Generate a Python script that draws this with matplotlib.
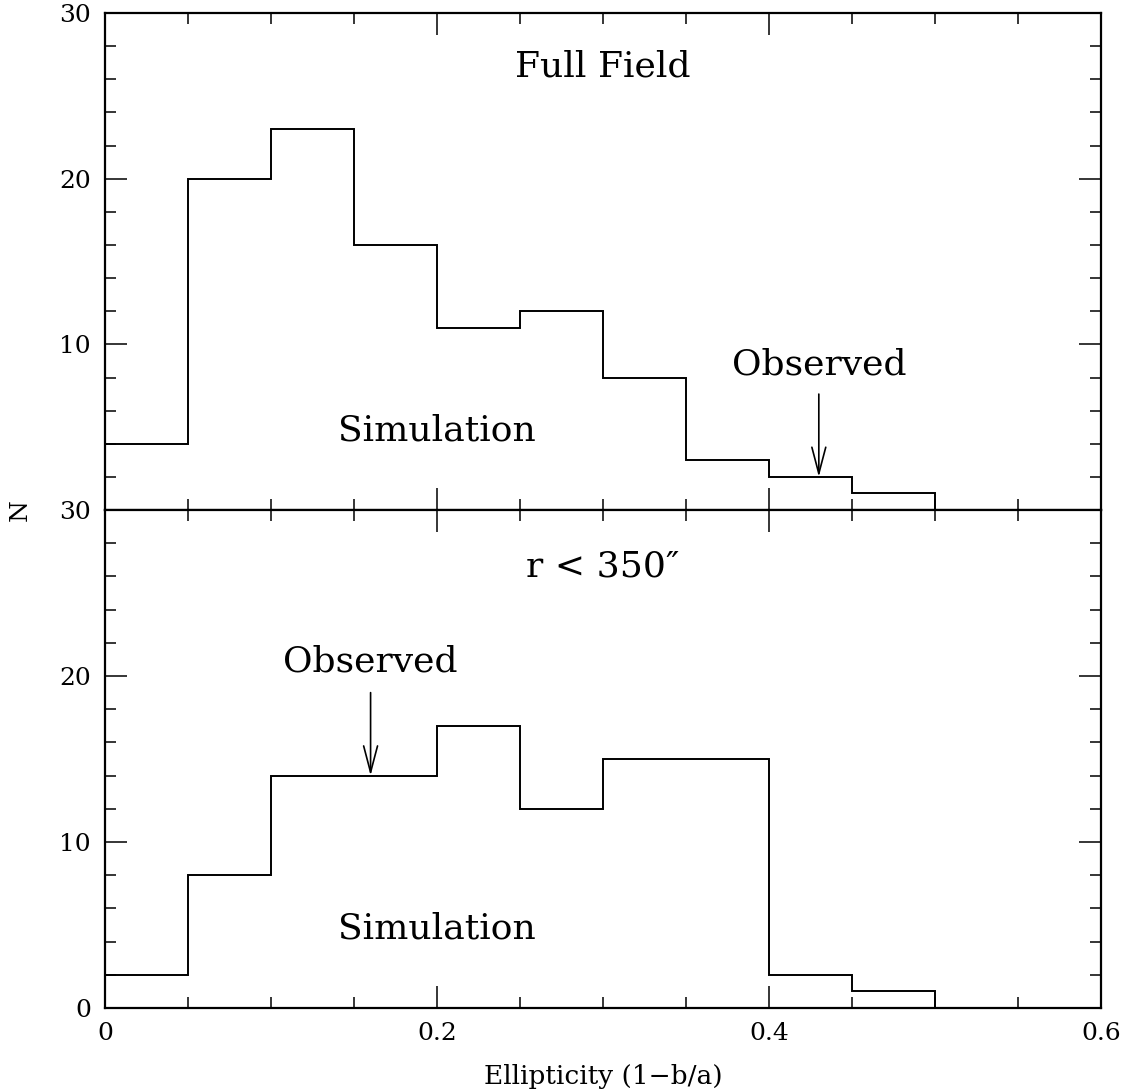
"""Ellipticity distributions: full field vs. inner region, with observed values marked."""
import matplotlib.pyplot as plt
from matplotlib.ticker import MultipleLocator, FixedLocator

plt.rcParams["font.family"] = ["DejaVu Serif"]

bin_edges = [0.0, 0.05, 0.10, 0.15, 0.20, 0.25, 0.30, 0.35, 0.40, 0.45, 0.50, 0.55, 0.60]
counts_full = [4, 20, 23, 16, 11, 12, 8, 3, 2, 1, 0, 0]
counts_inner = [2, 8, 14, 14, 17, 12, 15, 15, 2, 1, 0, 0]

observed_full = 0.43
observed_inner = 0.16

panels = [
    ("Full Field", counts_full, observed_full, 2, 7, 8.8, 26.8),
    ("r < 350\u2033", counts_inner, observed_inner, 14, 19, 20.9, 26.6),
]

fig = plt.figure(figsize=(11.25, 10.91), dpi=100)
ax_top = fig.add_axes([0.0933, 0.5325, 0.8854, 0.4555])
ax_bot = fig.add_axes([0.0933, 0.0761, 0.8854, 0.4564], sharex=ax_top)

for ax, (title, counts, obs, obs_y, arrow_top, text_y, title_y) in zip([ax_top, ax_bot], panels):
    ax.stairs(counts, bin_edges, color="black", linewidth=1.4)
    ax.set_xlim(0, 0.6)
    ax.set_ylim(0, 30)

    ax.xaxis.set_major_locator(MultipleLocator(0.2))
    ax.xaxis.set_minor_locator(MultipleLocator(0.05))
    ax.yaxis.set_major_locator(MultipleLocator(10))
    ax.yaxis.set_minor_locator(MultipleLocator(2))
    ax.tick_params(which="both", direction="in", top=True, right=True,
                   labelsize=18, width=1.1, color="black")
    ax.tick_params(which="major", length=16, pad=10)
    ax.tick_params(which="minor", length=8)
    for sp in ax.spines.values():
        sp.set_linewidth(1.6)

    ax.text(0.3, title_y, title, ha="center", va="center", fontsize=26)
    ax.text(0.2, 4.8, "Simulation", ha="center", va="center", fontsize=26)
    ax.text(obs, text_y, "Observed", ha="center", va="center", fontsize=26)
    ax.annotate("", xy=(obs, obs_y), xytext=(obs, arrow_top),
                arrowprops=dict(arrowstyle="->,head_length=1.9,head_width=0.5",
                                color="black", linewidth=1.2, shrinkA=0, shrinkB=0))

ax_top.yaxis.set_major_locator(FixedLocator([10, 20, 30]))
ax_top.tick_params(labelbottom=False)
ax_bot.xaxis.set_major_formatter(plt.FuncFormatter(lambda v, p: "0" if v == 0 else f"{v:.1f}"))

ax_bot.set_xlabel("Ellipticity (1\u2212b/a)", fontsize=19, labelpad=14)
fig.text(0.018, 1 - 510 / 1091, "N", rotation=90, ha="center", va="center", fontsize=18)

fig.savefig("out.png", dpi=100)
